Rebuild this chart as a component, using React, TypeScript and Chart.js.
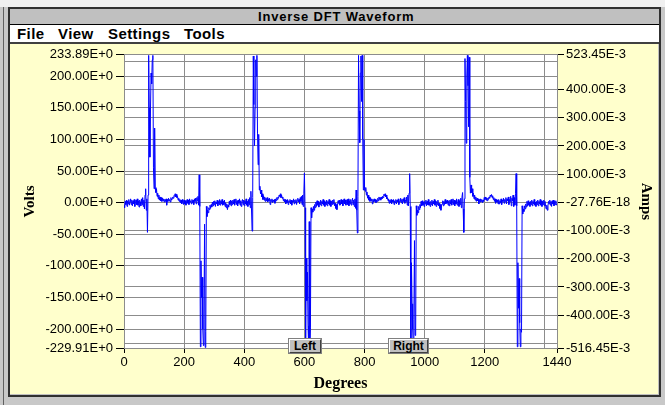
import React, { useEffect, useRef } from 'react';
import { Chart, registerables } from 'chart.js';

Chart.register(...registerables);

// Inverse DFT waveform, sampled every 2 degrees (volts)
const sampleStepDeg = 2;

// 0 .. 358 deg
const voltsSeg1 = [
  -4, -8, 2, -3, 4, -6, 3, -2, 5, -4, 2, 6, -3, 4, -5, 3, -2, 5, -6, 2, 4, -3, 6, -4, 3, -7, 4, 1, -5, 6, -3, 8, -6, 4, -10, 12,
  22, -12, 6, -47, 12, 233, 150, 72, 145, 205, 188, 226, 233, 55, 22, 118, 24,
  16, 22, 10, 15, 6, 12, 4, 9, 3, 8, 2, 7, 3, 6, 1, 5, 2, 6, -4, 5, 2, 7, 3, 5, 1, 8, 4,
  6, 9, 7, 11, 10, 14, 9, 13, 8, 10, 4, 7, 2, 5, 0, 4, -2, 5, 1, -3,
  4, -2, 3, -4, 2, 5, -1, 4, -3, 6, 1, 3, -2, 5, 0, 4, -3, 6, 2, 7, -2, 8, 3, 10, -4,
  44, -6, -228, -92, -150, -118, -200, -226, -185, -34, -229, -204, -6, -22,
  -12, -16, -8, -11, -4, -9, -3, -7, 1, -5, 2, -3, 3, -6, 1, -2, 4, -5, 2, -3, 5, -4, 3, -2, 5, -4, 2, -3, 4, -6, 0, -8, -2, -11, -4, -7, 2, -3, 4, -5, 3,
];

// 360 .. 718 deg
const voltsSeg2 = [
  -3, 4, -2, 5, -4, 2, 6, -3, 3, -5, 4, -1, 6, -4, 3, -6, 2, 5, -3, 4, -5, 3, -2, 6, -4, 2, -6, 5, -3, 8, -8,
  18, -10, -45, 8, 232, 155, 90, 150, 226, 200, 233, 110, 60, 108, 20,
  26, 14, 20, 9, 14, 5, 11, 4, 9, 2, 7, 3, 8, 1, 6, 3, 7, -3, 5, 2, 6, 0, 4, 2, 5, -1, 6, 3, 8, 5,
  9, 7, 12, 10, 14, 8, 12, 7, 9, 3, 6, 1, 5, -2, 4,
  0, 5, -3, 3, 1, 5, -2, 4, -4, 3, 1, 6, -2, 4, 0, 5, -3, 3, 7, 1, 5, -2, 8, 2, 10, -3, 12, -6, 14,
  47, -8, -230, -88, -155, -110, -195, -228, -30, -215, -198, -8, -24, -10,
  -15, -6, -12, -3, -8, 1, -6, 3, -4, 2, -7, 0, -3, 4, -5, 2, -2, 5, -4, 3, -6, 1, -3, 4, -5, 2, -2, 5, -4, 3, -6, 2, -3, 4, -2, 5, -5, -1, -9, -3, -11, -4, 3, -1, 4, -4,
];

// 720 .. 1078 deg
const voltsSeg3 = [
  -3, 5, -2, 4, -5, 3, 6, -2, 4, -4, 2, 5, -3, 6, -5, 3, -2, 5, -4, 2, 7, -3, 4, -6, 6, -9,
  20, -12, -48, 10, 233, 145, 95, 205, 232, 160, 233, 100, 20, 100, 22,
  18, 24, 12, 17, 7, 12, 4, 9, 2, 7, 3, 6, -2, 5, 1, 6, 2, 5, 0, 4, 2, 7, 3, 9, 5, 8, 4, 9, 6,
  10, 8, 13, 11, 14, 9, 12, 6, 8, 3, 6, -1, 4, 0, 5, -2,
  4, 1, 5, -3, 3, 0, 5, -2, 4, 1, 6, -3, 3, 2, 7, 0, 5, -2, 6, 2, 8, -1, 4, 2, 9, -4, 12, -5, 15,
  46, -6, -229, -95, -160, -200, -228, -185, -60, -210, -200, -5, -20, -12,
  -16, -6, -11, -3, -8, 2, -5, 3, -4, 1, -6, 2, -2, 4, -5, 2, -3, 5, -4, 1, -6, 2, -3, 4, -5, 2, -2, 5, -4, 3, -6, 2, -3, 4, -5, -1, -9, -3, -12, -4, -2, 3, -5, 2, -3, 5, -2, 3, -1, 4, -4,
];

// 1080 .. 1440 deg
const voltsSeg4 = [
  3, -5, 4, -2, 5, -4, 2, 6, -3, 4, -5, 3, -2, 6, -4, 2, 5, -6, 3, -3, 7, -8, 9,
  16, -10, -47, 6, 228, 160, 94, 200, 233, 185, 120, 230, 40, 15, 28,
  16, 22, 10, 15, 6, 12, 4, 9, 2, 7, 3, 6, -2, 5, 1, 6, 2, 5, 0, 4, 2, 8, 5, 9, 4, 8, 3, 7, 5,
  9, 7, 12, 10, 13, 8, 11, 5, 8, 2, 6, -1, 5, 1, 4, -2,
  5, -2, 3, 0, 6, -3, 4, 2, 7, -1, 5, 2, 8, -2, 6, 3, 9, -3, 5, 2, 10, -5, 7, 3, 12, -6, 8, -4, 14,
  46, -5, -228, -95, -167, -120, -190, -228, -200, -205, -5, -18, -10, -14,
  -5, -10, -2, -7, 2, -5, 3, -4, 1, -6, 2, -3, 4, -5, 2, -2, 5, -4, 1, -6, 2, -3, 4, -5, 2, -2, 5, -4, 3, -6, 2, -3, 4, -5, 2, -6, -10, -4, -12, -5, 2, -2, 4, -4, 2, -6, 3, -2, 4, -5, 2, -3, 3, -4, -2,
];

const xMin = 0;
const xMax = 1440;
const xTickValues = [0, 200, 400, 600, 800, 1000, 1200, 1400, 1440];
const xTickLabels = ['0', '200', '400', '600', '800', '1000', '1200', '', '1440'];

const voltsMin = -229.91;
const voltsMax = 233.89;
const voltsTickValues = [-229.91, -200, -150, -100, -50, 0, 50, 100, 150, 200, 233.89];
const voltsTickLabels = [
  '-229.91E+0', '-200.00E+0', '-150.00E+0', '-100.00E+0', '-50.00E+0', '0.00E+0',
  '50.00E+0', '100.00E+0', '150.00E+0', '200.00E+0', '233.89E+0',
];

const ampsMin = -0.51645;
const ampsMax = 0.52345;
const ampsTickValues = [-0.51645, -0.5, -0.4, -0.3, -0.2, -0.1, -2.776e-17, 0.1, 0.2, 0.3, 0.4, 0.5, 0.52345];
const ampsTickLabels = [
  '-516.45E-3', '', '-400.00E-3', '-300.00E-3', '-200.00E-3', '-100.00E-3', '-27.76E-18',
  '100.00E-3', '200.00E-3', '300.00E-3', '400.00E-3', '', '523.45E-3',
];

const GRID = '#8c8c8c';
const TICK_FONT = { family: '"Liberation Sans", Arial, sans-serif', size: 13 };
const TITLE_FONT = { family: '"Liberation Serif", "Times New Roman", serif', size: 15, weight: 'bold' as const };

const whitePlot = {
  id: 'whitePlot',
  beforeDraw(chart: any) {
    const { ctx, chartArea } = chart;
    ctx.save();
    ctx.fillStyle = '#ffffff';
    ctx.fillRect(chartArea.left, chartArea.top, chartArea.right - chartArea.left, chartArea.bottom - chartArea.top);
    ctx.restore();
  },
};

function WaveChart() {
  const ref = useRef<HTMLCanvasElement | null>(null);
  useEffect(() => {
    if (!ref.current) return;
    const volts = [...voltsSeg1, ...voltsSeg2, ...voltsSeg3, ...voltsSeg4];
    const points = volts.map((v, i) => ({ x: i * sampleStepDeg, y: v }));
    const chart = new Chart(ref.current, {
      type: 'line',
      data: {
        datasets: [
          {
            data: points,
            borderColor: '#0000ff',
            borderWidth: 1,
            pointRadius: 0,
            tension: 0,
            fill: false,
            yAxisID: 'y',
          },
        ],
      },
      plugins: [whitePlot],
      options: {
        animation: false,
        responsive: false,
        maintainAspectRatio: false,
        devicePixelRatio: 1,
        events: [],
        layout: { padding: { top: 9, left: 0, right: 0, bottom: 0 } },
        plugins: { legend: { display: false }, tooltip: { enabled: false } },
        scales: {
          x: {
            type: 'linear',
            min: xMin,
            max: xMax,
            afterBuildTicks: (s: any) => { s.ticks = xTickValues.map((v) => ({ value: v })); },
            afterFit: (s: any) => { s.height = 46; },
            ticks: {
              autoSkip: false,
              maxRotation: 0,
              minRotation: 0,
              padding: 2,
              color: '#000',
              font: TICK_FONT,
              callback: (_v: any, i: number) => xTickLabels[i],
            },
            grid: {
              color: GRID,
              lineWidth: 1,
              tickLength: 5,
              tickColor: (c: any) => (xTickLabels[c.index] === '' ? 'rgba(0,0,0,0)' : '#000'),
            },
            border: { color: GRID },
            title: {
              display: true,
              text: 'Degrees',
              color: '#000',
              font: { ...TITLE_FONT, size: 16 },
              padding: { top: 0, bottom: 1 },
            },
          },
          y: {
            type: 'linear',
            position: 'left',
            min: voltsMin,
            max: voltsMax,
            afterBuildTicks: (s: any) => { s.ticks = voltsTickValues.map((v) => ({ value: v })); },
            afterFit: (s: any) => { s.width = 114; },
            ticks: {
              autoSkip: false,
              padding: 3,
              color: '#000',
              font: TICK_FONT,
              callback: (_v: any, i: number) => voltsTickLabels[i],
            },
            grid: { color: GRID, lineWidth: 1, tickLength: 8, tickColor: '#000' },
            border: { color: GRID },
            title: {
              display: true,
              text: 'Volts',
              color: '#000',
              font: TITLE_FONT,
              padding: { top: 11, bottom: 0 },
            },
          },
          y2: {
            type: 'linear',
            position: 'right',
            min: ampsMin,
            max: ampsMax,
            afterBuildTicks: (s: any) => { s.ticks = ampsTickValues.map((v) => ({ value: v })); },
            afterFit: (s: any) => { s.width = 101; },
            ticks: {
              autoSkip: false,
              padding: 2,
              color: '#000',
              font: TICK_FONT,
              callback: (_v: any, i: number) => ampsTickLabels[i],
            },
            grid: {
              color: GRID,
              lineWidth: 1,
              tickLength: 7,
              tickColor: (c: any) => (ampsTickLabels[c.index] === '' ? 'rgba(0,0,0,0)' : '#000'),
            },
            border: { color: GRID },
            title: {
              display: true,
              text: 'Amps',
              color: '#000',
              font: TITLE_FONT,
              padding: { top: 3, bottom: 0 },
            },
          },
        },
      } as any,
    });
    return () => chart.destroy();
  }, []);
  return <canvas ref={ref} width={648} height={350} style={{ display: 'block', width: 648, height: 350 }} />;
}

const btnStyle: React.CSSProperties = {
  position: 'absolute',
  top: 339,
  height: 14,
  boxSizing: 'border-box',
  background: '#c0c0c0',
  borderTop: '1px solid #ffffff',
  borderLeft: '1px solid #ffffff',
  borderRight: '1px solid #404040',
  borderBottom: '1px solid #404040',
  outline: '1px solid #808080',
  font: 'bold 12px "Liberation Sans", Arial, sans-serif',
  lineHeight: '12px',
  textAlign: 'center',
  color: '#000',
  zIndex: 2,
};

const menuStyle: React.CSSProperties = {
  position: 'absolute',
  top: 25,
  font: 'bold 15px "Liberation Sans", Arial, sans-serif',
  lineHeight: '17px',
  letterSpacing: '0.4px',
  color: '#000',
};

export default function App() {
  return (
    <div style={{ position: 'absolute', left: 0, top: 0, width: 665, height: 405, background: '#c8c8c8', overflow: 'hidden' }}>
      <div style={{ position: 'absolute', left: 0, top: 0, width: 665, height: 7, background: '#f0f0f0' }} />
      <div style={{ position: 'absolute', left: 3, top: 7, width: 1, height: 398, background: '#606060' }} />
      <div style={{ position: 'absolute', left: 8, top: 7, width: 653, height: 390, boxSizing: 'border-box', border: '2px solid #303030', background: '#c0c0c0' }} />
      <div style={{ position: 'absolute', left: 10, top: 9, width: 649, height: 15, background: '#c0c0c0' }} />
      <div style={{ position: 'absolute', left: 258, top: 9, font: 'bold 13px "Liberation Sans", Arial, sans-serif', lineHeight: '15px', letterSpacing: '0.8px', color: '#000', whiteSpace: 'nowrap' }}>
        Inverse DFT Waveform
      </div>
      <div style={{ position: 'absolute', left: 10, top: 24, width: 649, height: 1, background: '#000' }} />
      <div style={{ position: 'absolute', left: 10, top: 25, width: 649, height: 17, background: '#ffffff' }} />
      <div style={{ ...menuStyle, left: 17 }}>File</div>
      <div style={{ ...menuStyle, left: 58 }}>View</div>
      <div style={{ ...menuStyle, left: 108 }}>Settings</div>
      <div style={{ ...menuStyle, left: 184 }}>Tools</div>
      <div style={{ position: 'absolute', left: 10, top: 42, width: 649, height: 2, background: '#404040' }} />
      <div style={{ position: 'absolute', left: 10, top: 44, width: 648, height: 350, background: '#ffffcc' }}>
        <WaveChart />
      </div>
      <div style={{ ...btnStyle, left: 289, width: 32 }}>Left</div>
      <div style={{ ...btnStyle, left: 389, width: 39 }}>Right</div>
    </div>
  );
}
